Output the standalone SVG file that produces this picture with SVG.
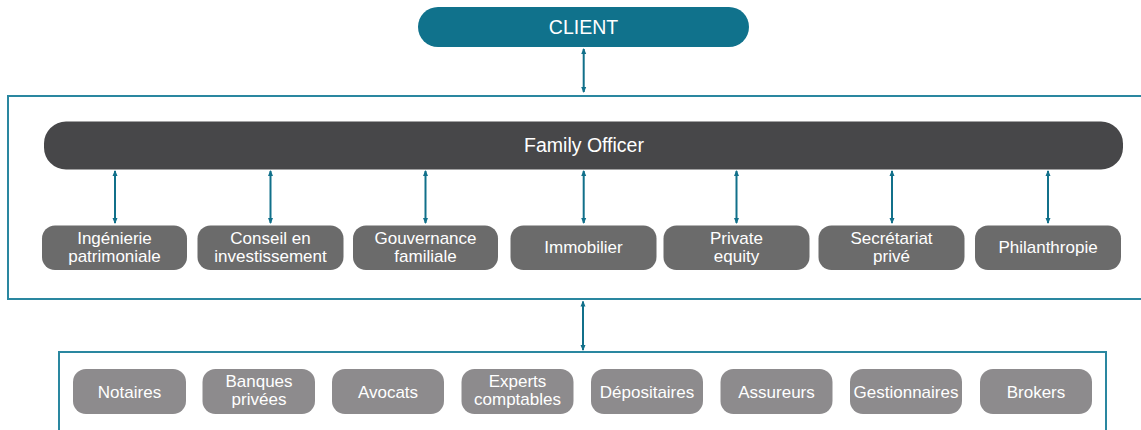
<svg xmlns="http://www.w3.org/2000/svg" width="1141" height="430" viewBox="0 0 1141 430">
<style>
.frame{fill:none;stroke:#2a87a0;stroke-width:2}
.svc{fill:#6b6b6b}
.ptn{fill:#8d8b8d}
.t{font-family:"Liberation Sans",Arial,sans-serif;fill:#ffffff;text-anchor:middle}
.ts{font-size:17px}
.conn{stroke:#11708a;stroke-width:2;fill:none;marker-start:url(#ah);marker-end:url(#ah)}
</style>
<defs>
<marker id="ah" viewBox="0 0 6 6" refX="5" refY="3" markerWidth="6" markerHeight="6" markerUnits="userSpaceOnUse" orient="auto-start-reverse">
<path d="M0,0.5 L6,3 L0,5.5 Z" fill="#11708a"/>
</marker>
</defs>
<rect id="frame-top" class="frame" x="8" y="96" width="1150" height="203"/>
<rect id="frame-bottom" class="frame" x="59" y="352" width="1047" height="90"/>
<g id="connectors">
<line class="conn" x1="583.7" y1="49" x2="583.7" y2="92"/>
<line class="conn" x1="115" y1="171" x2="115" y2="223"/>
<line class="conn" x1="270.5" y1="171" x2="270.5" y2="223"/>
<line class="conn" x1="425.5" y1="171" x2="425.5" y2="223"/>
<line class="conn" x1="583.7" y1="171" x2="583.7" y2="223"/>
<line class="conn" x1="736.5" y1="171" x2="736.5" y2="223"/>
<line class="conn" x1="892" y1="171" x2="892" y2="223"/>
<line class="conn" x1="1048" y1="171" x2="1048" y2="223"/>
<line class="conn" x1="583" y1="301.5" x2="583" y2="350"/>
</g>
<g id="client"><rect x="418" y="7" width="331" height="40" rx="20" fill="#10728c"/><text class="t" x="583.5" y="33.5" font-size="19.5">CLIENT</text></g>
<g id="family-officer"><rect x="44" y="121.5" width="1079" height="48" rx="22" fill="#474749"/><text class="t" x="584" y="152" font-size="19.5">Family Officer</text></g>
<g id="svc1"><rect class="svc" x="42" y="225.5" width="145" height="44.5" rx="13"/><text class="t ts" x="114.5" y="243.5">Ingénierie</text><text class="t ts" x="114.5" y="261.5">patrimoniale</text></g>
<g id="svc2"><rect class="svc" x="197.5" y="225.5" width="146" height="44.5" rx="13"/><text class="t ts" x="270.5" y="243.5">Conseil en</text><text class="t ts" x="270.5" y="261.5">investissement</text></g>
<g id="svc3"><rect class="svc" x="353" y="225.5" width="145" height="44.5" rx="13"/><text class="t ts" x="425.5" y="243.5">Gouvernance</text><text class="t ts" x="425.5" y="261.5">familiale</text></g>
<g id="svc4"><rect class="svc" x="510.5" y="225.5" width="146" height="44.5" rx="13"/><text class="t ts" x="583.5" y="252.5">Immobilier</text></g>
<g id="svc5"><rect class="svc" x="663.5" y="225.5" width="146" height="44.5" rx="13"/><text class="t ts" x="736.5" y="243.5">Private</text><text class="t ts" x="736.5" y="261.5">equity</text></g>
<g id="svc6"><rect class="svc" x="818.5" y="225.5" width="146" height="44.5" rx="13"/><text class="t ts" x="891.5" y="243.5">Secrétariat</text><text class="t ts" x="891.5" y="261.5">privé</text></g>
<g id="svc7"><rect class="svc" x="975" y="225.5" width="146" height="44.5" rx="13"/><text class="t ts" x="1048" y="252.5">Philanthropie</text></g>
<g id="p1"><rect class="ptn" x="73" y="369" width="113" height="45" rx="13"/><text class="t ts" x="129.5" y="397.5">Notaires</text></g>
<g id="p2"><rect class="ptn" x="202.5" y="369" width="112.5" height="45" rx="13"/><text class="t ts" x="259" y="387">Banques</text><text class="t ts" x="259" y="405">privées</text></g>
<g id="p3"><rect class="ptn" x="332" y="369" width="112" height="45" rx="13"/><text class="t ts" x="388" y="397.5">Avocats</text></g>
<g id="p4"><rect class="ptn" x="461.5" y="369" width="112" height="45" rx="13"/><text class="t ts" x="517.5" y="387">Experts</text><text class="t ts" x="517.5" y="405">comptables</text></g>
<g id="p5"><rect class="ptn" x="591" y="369" width="112" height="45" rx="13"/><text class="t ts" x="647" y="397.5">Dépositaires</text></g>
<g id="p6"><rect class="ptn" x="720.5" y="369" width="112" height="45" rx="13"/><text class="t ts" x="776.5" y="397.5">Assureurs</text></g>
<g id="p7"><rect class="ptn" x="850" y="369" width="112" height="45" rx="13"/><text class="t ts" x="906" y="397.5">Gestionnaires</text></g>
<g id="p8"><rect class="ptn" x="980" y="369" width="112" height="45" rx="13"/><text class="t ts" x="1036" y="397.5">Brokers</text></g>
</svg>
